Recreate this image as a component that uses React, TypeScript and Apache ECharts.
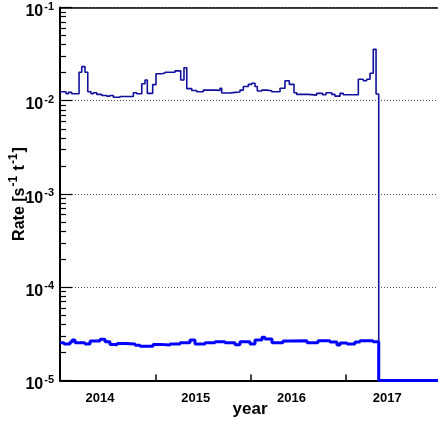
import React, { useEffect, useRef } from "react";
import * as echarts from "echarts";

const X_MIN = 2013.582;
const X_MAX = 2017.551;
const Y_MIN = 1e-5;
const Y_MAX = 1e-1;
const yearLabels = [2014, 2015, 2016, 2017];
const xTickPositions = [2014.585, 2015.577, 2016.569];
const emptyValue = 1e-5;

const navyEdges = [
  2013.582, 2013.645, 2013.669, 2013.704, 2013.781, 2013.809, 2013.843, 2013.872, 2013.906, 2013.93,
  2013.966, 2014.018, 2014.07, 2014.104, 2014.139, 2014.209, 2014.348, 2014.383, 2014.436, 2014.47,
  2014.494, 2014.55, 2014.585, 2014.644, 2014.679, 2014.783, 2014.843, 2014.877, 2014.906, 2014.958,
  2015.01, 2015.079, 2015.219, 2015.253, 2015.271, 2015.358, 2015.41, 2015.462, 2015.497, 2015.549,
  2015.584, 2015.619, 2015.643, 2015.689, 2015.741, 2015.793, 2015.88, 2015.932, 2015.977, 2016.026,
  2016.054, 2016.175, 2016.263, 2016.326, 2016.36, 2016.42, 2016.454, 2016.507, 2016.541, 2016.698,
  2016.75, 2016.785, 2016.82, 2016.854, 2016.883, 2016.911,
];
const navyValues = [
  0.0125, 0.0119, 0.0123, 0.0119, 0.0202, 0.0232, 0.0202, 0.0125, 0.0119, 0.0122,
  0.0117, 0.0114, 0.0112, 0.0114, 0.0109, 0.0111, 0.0122, 0.0119, 0.0152, 0.0167,
  0.012, 0.0149, 0.0195, 0.0198, 0.0202, 0.0209, 0.0167, 0.0226, 0.0135, 0.0129,
  0.0125, 0.013, 0.0129, 0.0136, 0.0121, 0.0123, 0.0124, 0.013, 0.0142, 0.015,
  0.0154, 0.0142, 0.0127, 0.013, 0.0128, 0.0125, 0.0136, 0.0164, 0.015, 0.0122,
  0.0117, 0.0115, 0.012, 0.0116, 0.0122, 0.0117, 0.0112, 0.012, 0.0116, 0.017,
  0.0164, 0.017, 0.0197, 0.0356, 0.0118,
];

const blueEdges = [
  2013.582, 2013.624, 2013.687, 2013.708, 2013.739, 2013.843, 2013.896, 2014.0, 2014.052, 2014.104,
  2014.157, 2014.178, 2014.261, 2014.366, 2014.418, 2014.554, 2014.627, 2014.731, 2014.836, 2014.94,
  2014.992, 2015.097, 2015.201, 2015.305, 2015.41, 2015.462, 2015.567, 2015.619, 2015.692, 2015.723,
  2015.796, 2015.911, 2015.984, 2016.162, 2016.277, 2016.402, 2016.475, 2016.507, 2016.58, 2016.663,
  2016.715, 2016.851, 2016.911,
];
const blueValues = [
  2.54e-5, 2.46e-5, 2.59e-5, 2.72e-5, 2.54e-5, 2.46e-5, 2.65e-5, 2.77e-5, 2.61e-5, 2.44e-5,
  2.4e-5, 2.5e-5, 2.46e-5, 2.39e-5, 2.33e-5, 2.44e-5, 2.4e-5, 2.46e-5, 2.54e-5, 2.72e-5,
  2.46e-5, 2.54e-5, 2.61e-5, 2.54e-5, 2.42e-5, 2.61e-5, 2.46e-5, 2.72e-5, 2.91e-5, 2.79e-5,
  2.54e-5, 2.65e-5, 2.67e-5, 2.54e-5, 2.67e-5, 2.59e-5, 2.4e-5, 2.52e-5, 2.46e-5, 2.59e-5,
  2.67e-5, 2.61e-5,
];

const minorMultipliers = [2, 3, 4, 5, 6, 7, 8, 9];
const decadeExponents = [-5, -4, -3, -2];

const FONT = "'Liberation Sans', Arial, Helvetica, sans-serif";

function stepPoints(edges: number[], values: number[]): number[][] {
  const pts: number[][] = [];
  values.forEach((v, i) => {
    pts.push([edges[i], v]);
    pts.push([edges[i + 1], v]);
  });
  const last = edges[edges.length - 1];
  pts.push([last, emptyValue]);
  pts.push([X_MAX, emptyValue]);
  return pts;
}

export default function App() {
  const ref = useRef<HTMLDivElement>(null);
  useEffect(() => {
    if (!ref.current) return;
    const chart = echarts.init(ref.current, undefined, { renderer: "svg" });
    const minorTicks: number[] = [];
    decadeExponents.forEach((e) => minorMultipliers.forEach((m) => minorTicks.push(m * Math.pow(10, e))));
    const labelRich = {
      b: { fontFamily: FONT, fontWeight: "bold", fontSize: 16, color: "#000", lineHeight: 17, padding: [6, 0, 0, 0] },
      s: { fontFamily: FONT, fontWeight: "bold", fontSize: 11, color: "#000", lineHeight: 12, verticalAlign: "top", padding: [1, 0, 0, 1] },
    };
    const nameRich = {
      b: { fontFamily: FONT, fontWeight: "bold", fontSize: 16, color: "#000", lineHeight: 17, padding: [6, 0, 0, 0] },
      s: { fontFamily: FONT, fontWeight: "bold", fontSize: 12, color: "#000", lineHeight: 12, verticalAlign: "top", padding: [0, 1, 0, 1] },
    };
    chart.setOption({
      animation: false,
      grid: { left: 60, right: -2, top: 7.5, bottom: 42.5, containLabel: false, outerBoundsMode: "none" },
      xAxis: [
        {
          type: "value",
          min: X_MIN,
          max: X_MAX,
          position: "bottom",
          axisLine: { show: true, onZero: false, lineStyle: { color: "#000", width: 2 } },
          axisTick: { show: true, inside: true, length: 6, customValues: xTickPositions, lineStyle: { color: "#000", width: 1.5 } },
          axisLabel: {
            show: true,
            customValues: yearLabels,
            formatter: (v: number) => String(Math.round(v)),
            fontFamily: FONT,
            fontWeight: "bold",
            fontSize: 13,
            color: "#000",
            margin: 10,
          },
          splitLine: { show: false },
          name: "year",
          nameLocation: "middle",
          nameGap: 19,
          nameMoveOverlap: false,
          nameTextStyle: { fontFamily: FONT, fontWeight: "bold", fontSize: 17, color: "#000" },
        },
        {
          type: "value",
          min: X_MIN,
          max: X_MAX,
          position: "top",
          axisLine: { show: true, onZero: false, lineStyle: { color: "#000", width: 1.5 } },
          axisTick: { show: false },
          axisLabel: { show: false },
          splitLine: { show: false },
        },
      ],
      yAxis: [
        {
          type: "log",
          logBase: 10,
          min: Y_MIN,
          max: Y_MAX,
          position: "left",
          axisLine: { show: true, onZero: false, lineStyle: { color: "#000", width: 2 } },
          axisTick: { show: true, inside: true, length: 12, lineStyle: { color: "#000", width: 1.2 } },
          axisLabel: {
            margin: 6,
            fontFamily: FONT,
            fontWeight: "bold",
            fontSize: 16,
            color: "#000",
            formatter: (v: number) => {
              const e = Math.round(Math.log10(v));
              return `{b|10}{s|-${Math.abs(e)}}`;
            },
            rich: labelRich,
          },
          splitLine: { show: true, lineStyle: { color: "#555", type: [1, 2], width: 1 } },
          name: "{b|Rate [s}{s|-1}{b| t}{s|-1}{b|]}",
          nameLocation: "middle",
          nameRotate: 90,
          nameGap: 36,
          nameMoveOverlap: false,
          nameTextStyle: { fontFamily: FONT, fontWeight: "bold", fontSize: 16, color: "#000", rich: nameRich },
        },
        {
          type: "log",
          logBase: 10,
          min: Y_MIN,
          max: Y_MAX,
          position: "left",
          axisLine: { show: false },
          axisTick: { show: true, inside: true, length: 6, customValues: minorTicks, lineStyle: { color: "#000", width: 1.2 } },
          axisLabel: { show: false },
          splitLine: { show: false },
        },
      ],
      series: [
        {
          type: "line",
          xAxisIndex: 0,
          yAxisIndex: 0,
          data: stepPoints(navyEdges, navyValues),
          showSymbol: false,
          symbol: "none",
          lineStyle: { color: "#10109c", width: 1.6 },
          z: 3,
        },
        {
          type: "line",
          xAxisIndex: 0,
          yAxisIndex: 0,
          data: stepPoints(blueEdges, blueValues),
          showSymbol: false,
          symbol: "none",
          lineStyle: { color: "#0000ff", width: 3 },
          z: 4,
        },
      ],
    });
    return () => chart.dispose();
  }, []);
  return <div ref={ref} style={{ position: "fixed", left: 0, top: 0, width: 438, height: 423 }} />;
}
